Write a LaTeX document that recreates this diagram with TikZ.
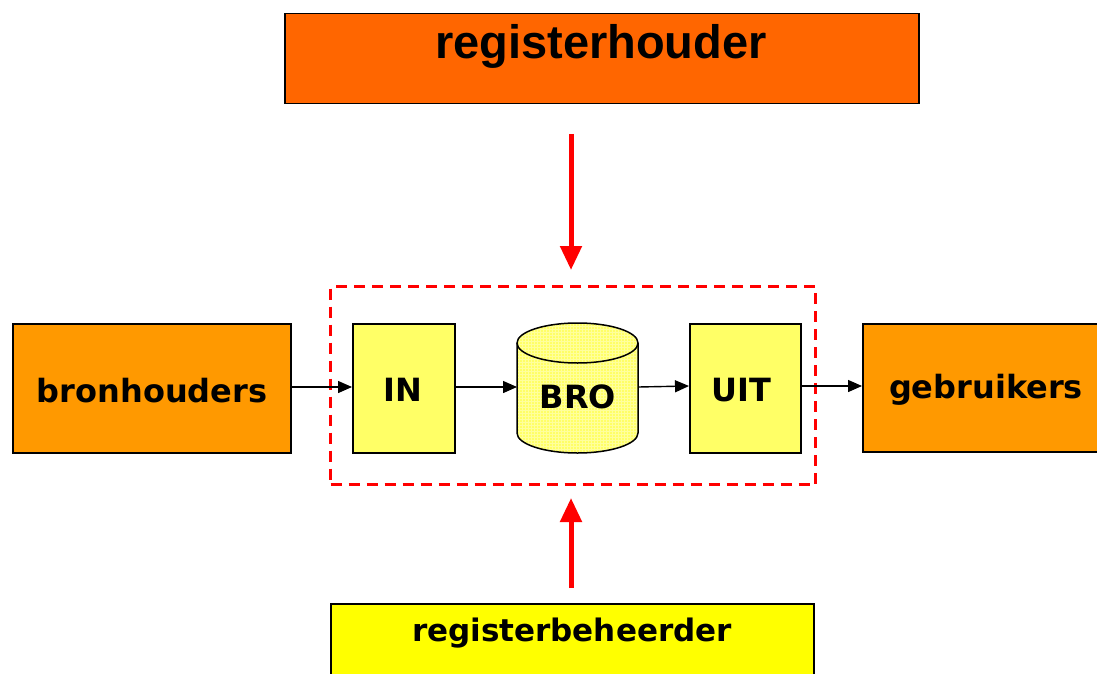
\documentclass[tikz,border=0pt]{standalone}
\usepackage{fontspec}
\setmainfont{DejaVu Sans}
\newfontfamily\arialfont{Liberation Sans}
\usetikzlibrary{arrows.meta,patterns}
\definecolor{hdorange}{HTML}{FF6600}
\definecolor{boxorange}{HTML}{FF9900}
\definecolor{lightyel}{HTML}{FFFF66}
\definecolor{beheeryel}{HTML}{FFFF00}
\definecolor{redline}{HTML}{FF0000}
\tikzset{
  box/.style={draw=black, line width=1.5pt, inner sep=0pt},
  lbl/.style={font=\bfseries\fontsize{32}{36}\selectfont},
  bigbox/.style={box, fill=boxorange},
  smallbox/.style={box, fill=lightyel},
  flow/.style={-{Triangle[length=14pt,width=12pt]}, line width=1.4pt, black},
  redarrow/.style={-{Triangle[length=24pt,width=21pt]}, line width=5pt, redline},
}
\begin{document}
\begin{tikzpicture}[x=1pt,y=-1pt]
\useasboundingbox (0,0) rectangle (1097,674);
% registerhouder
\node[box, fill=hdorange, minimum width=634pt, minimum height=90pt, anchor=north west] (houder) at (284,13) {};
\node[font=\arialfont\bfseries\fontsize{47}{52}\selectfont] (houdertxt) at (601,46) {registerhouder};
% dashed frame
\node[draw=redline, dashed, dash pattern=on 11pt off 7pt, line width=3pt, minimum width=485pt, minimum height=198pt, anchor=north west, inner sep=0pt] (frame) at (329,285) {};
% side boxes
\node[bigbox, minimum width=278pt, minimum height=129pt, anchor=north west] (bron) at (12,323) {};
\node[lbl] (brontxt) at (152,391) {bronhouders};
\node[bigbox, minimum width=240pt, minimum height=128pt, anchor=north west] (gebr) at (862,323) {};
\node[lbl] (gebrtxt) at (986,390) {gebruikers};
% IN and UIT
\node[smallbox, minimum width=102pt, minimum height=129pt, anchor=north west] (in) at (352,323) {};
\node[lbl] (intxt) at (403,390) {IN};
\node[smallbox, minimum width=111pt, minimum height=129pt, anchor=north west] (uit) at (689,323) {};
\node[lbl] (uittxt) at (741,390) {UIT};
% BRO cylinder
\node[minimum width=121pt, minimum height=130pt, anchor=north west, inner sep=0pt] (bro) at (517,323) {};
\fill[lightyel] (517,343) -- (517,433) arc[start angle=180, end angle=360, x radius=60.5pt, y radius=20pt] -- (638,343) arc[start angle=0, end angle=180, x radius=60.5pt, y radius=20pt] -- cycle;
\draw[line width=1.5pt, pattern=grid, pattern color=white!35!lightyel] (517,343) -- (517,433) arc[start angle=180, end angle=360, x radius=60.5pt, y radius=20pt] -- (638,343) arc[start angle=0, end angle=180, x radius=60.5pt, y radius=20pt] -- cycle;
\draw[line width=1.5pt] (517,343) arc[start angle=180, end angle=360, x radius=60.5pt, y radius=20pt];
\node[lbl] (brotxt) at (578,397) {BRO};
% registerbeheerder
\node[box, fill=beheeryel, minimum width=483pt, minimum height=90pt, anchor=north west] (beheer) at (330,603) {};
\node[font=\bfseries\fontsize{31}{35}\selectfont] (beheertxt) at (572,633) {registerbeheerder};
% flows
\draw[flow] (bron.east |- 0,387) -- (in.west |- 0,387);
\draw[flow] (in.east |- 0,387) -- (bro.west |- 0,387);
\draw[flow] (bro.east |- 0,387) -- (uit.west |- 0,386);
\draw[flow] (uit.east |- 0,386) -- (gebr.west |- 0,386);
% red arrows
\coordinate (topstart) at (571,134);
\coordinate (topend) at (571,270);
\draw[redarrow] (topstart) -- (topend);
\coordinate (botstart) at (571,588);
\coordinate (botend) at (571,498);
\draw[redarrow] (botstart) -- (botend);
\end{tikzpicture}
\end{document}
